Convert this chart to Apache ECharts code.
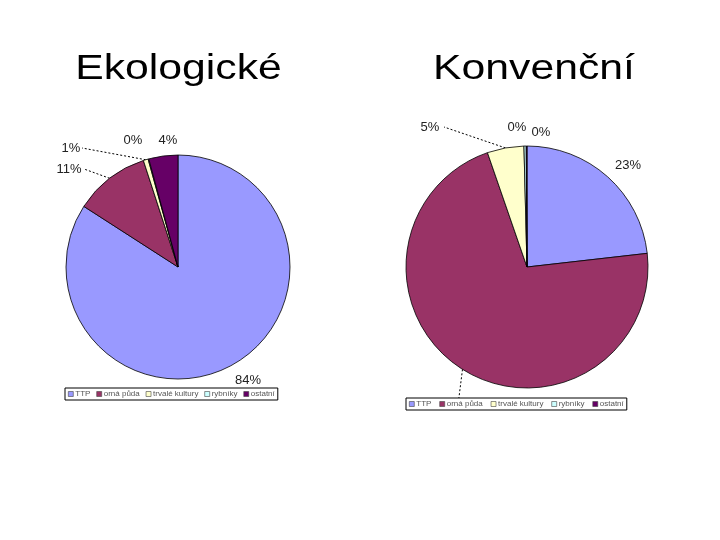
<!DOCTYPE html>
<html><head><meta charset="utf-8">
<script src="https://cdn.jsdelivr.net/npm/echarts@6/dist/echarts.min.js"></script>
<style>html,body{margin:0;padding:0;background:#fff}#c{width:720px;height:540px}</style>
</head><body><div id="c"></div>
<script>
const categories = ['TTP', 'orná půda', 'trvalé kultury', 'rybníky', 'ostatní'];
const ekoValues = [84.1, 10.9, 0.7, 0.1, 4.2];
const konvValues = [23.2, 71.5, 4.9, 0.3, 0.1];
const colors = ['#9999FF', '#993366', '#FFFFCC', '#CCFFFF', '#660066'];
const titles = ['Ekologické', 'Konvenční'];

// label placement (layout only): [x, y, align, lineEndX or null]
const labelPos = [
  [[248, 380, 'center', null], [69, 169, 'center', 84], [71, 148, 'center', 82], [133, 140, 'center', null], [168, 140, 'center', null]],
  [[628, 165, 'center', null], [452, 405, 'center', 458], [430, 127, 'center', 444], [517, 127, 'center', null], [541, 132, 'center', null]]
];

const chart = echarts.init(document.getElementById('c'), null, {renderer: 'canvas'});

function mkData(vals) {
  return vals.map((v, i) => ({name: categories[i], value: v}));
}

const labelCommon = {
  show: true, position: 'outside', color: '#222', fontSize: 13,
  fontFamily: 'Liberation Sans, Arial, sans-serif',
  formatter: p => Math.round(p.percent) + '%'
};
const lineCommon = {show: true, length: 8, length2: 20, lineStyle: {color: '#000', width: 1, type: [2, 2]}};

function layoutFn(params) {
  const lp = labelPos[params.seriesIndex][params.dataIndex];
  const out = {x: lp[0], y: lp[1], align: lp[2], verticalAlign: 'middle'};
  if (lp[3] !== null && params.labelLinePoints) {
    const p0 = params.labelLinePoints[0];
    const end = [lp[3], lp[1]];
    out.labelLinePoints = [p0, end, end];
  } else if (params.labelLinePoints) {
    const p0 = params.labelLinePoints[0];
    out.labelLinePoints = [p0, p0, p0];
  }
  return out;
}

const legendCommon = {
  data: categories, itemWidth: 5, itemHeight: 5, itemGap: 6,
  borderColor: '#000', borderWidth: 1, padding: [2, 3], backgroundColor: '#fff', z: 20,
  itemStyle: {borderColor: '#444', borderWidth: 0.6},
  textStyle: {fontSize: 8, color: '#555', padding: [0, 0, 0, -3], fontFamily: 'Liberation Sans, Arial'},
  icon: 'rect', selectedMode: false
};

function titleText(txt, cx) {
  return {type: 'text', x: cx, y: 52, scaleX: 1.22, z: 30,
    style: {text: txt, fontSize: 35, fontFamily: 'Liberation Sans, Arial', fill: '#000',
      textAlign: 'center', verticalAlign: 'top'}};
}

chart.setOption({
  animation: false,
  color: colors,
  graphic: [titleText(titles[0], 178.5), titleText(titles[1], 534)],
  legend: [
    Object.assign({}, legendCommon, {left: 65, top: 388}),
    Object.assign({}, legendCommon, {left: 406, top: 398, itemGap: 8})
  ],
  series: [
    {type: 'pie', center: [178, 267], radius: 112, startAngle: 90, clockwise: true,
     minShowLabelAngle: 0, avoidLabelOverlap: false, z: 1,
     itemStyle: {borderColor: '#000', borderWidth: 0.8},
     label: labelCommon, labelLine: lineCommon, labelLayout: layoutFn,
     data: mkData(ekoValues)},
    {type: 'pie', center: [527, 267], radius: 121, startAngle: 90, clockwise: true,
     minShowLabelAngle: 0, avoidLabelOverlap: false, z: 1,
     itemStyle: {borderColor: '#000', borderWidth: 0.8},
     label: labelCommon, labelLine: lineCommon, labelLayout: layoutFn,
     data: mkData(konvValues)}
  ]
});
</script></body></html>
